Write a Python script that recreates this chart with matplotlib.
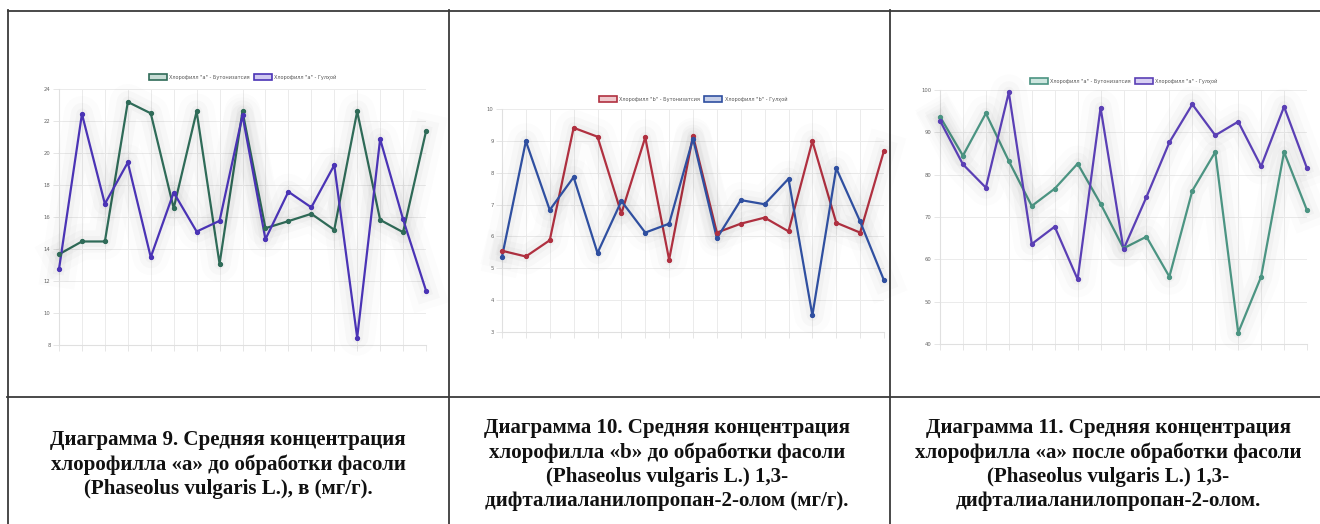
import matplotlib
matplotlib.use("Agg")
import matplotlib.pyplot as plt
import matplotlib.patheffects as pe
from matplotlib.patches import Patch

W, H = 1320, 524
DPI = 100

# ---------------- data ----------------
x_idx = list(range(1, 18))

chl_a_bud = [13.67, 14.47, 14.47, 23.19, 22.48, 16.55, 22.6, 13.07, 22.6, 15.3,
             15.74, 16.2, 15.2, 22.6, 15.82, 15.05, 21.35]
chl_a_flow = [12.74, 22.44, 16.82, 19.41, 13.49, 17.53, 15.09, 15.76, 22.35, 14.61,
              17.58, 16.6, 19.24, 8.46, 20.87, 15.86, 11.4]

chl_b_bud = [5.55, 5.37, 5.88, 9.41, 9.13, 6.72, 9.11, 5.27, 9.16, 6.12,
             6.40, 6.59, 6.16, 8.99, 6.43, 6.12, 8.69]
chl_b_flow = [5.36, 8.99, 6.83, 7.86, 5.48, 7.11, 6.12, 6.40, 9.07, 5.94,
              7.14, 7.01, 7.81, 3.52, 8.14, 6.47, 4.62]

chl_a2_bud = [93.7, 84.49, 94.49, 83.23, 72.6, 76.69, 82.6, 73.15, 62.6, 65.35,
              55.9, 76.2, 85.35, 42.68, 55.9, 85.35, 71.57]
chl_a2_flow = [92.76, 82.44, 76.93, 99.45, 63.62, 67.72, 55.28, 95.83, 62.36, 74.72,
               87.64, 96.61, 89.29, 92.52, 81.97, 96.06, 81.5]

legend1 = ['Хлорофилл "а" - Бутонизатсия', 'Хлорофилл "а" - Гулҳой']
legend2 = ['Хлорофилл "b" - Бутонизатсия', 'Хлорофилл "b" - Гулҳой']
legend3 = ['Хлорофилл "а" - Бутонизатсия', 'Хлорофилл "а" - Гулҳой']

yticks1 = [8, 10, 12, 14, 16, 18, 20, 22, 24]
yticks2 = [3, 4, 5, 6, 7, 8, 9, 10]
yticks3 = [40, 50, 60, 70, 80, 90, 100]

captions = [
    ["Диаграмма 9. Средняя концентрация",
     "хлорофилла «а» до обработки фасоли",
     "(Phaseolus vulgaris L.), в (мг/г)."],
    ["Диаграмма 10. Средняя концентрация",
     "хлорофилла «b» до обработки фасоли",
     "(Phaseolus vulgaris L.) 1,3-",
     "дифталиаланилопропан-2-олом (мг/г)."],
    ["Диаграмма 11. Средняя концентрация",
     "хлорофилла «а» после обработки фасоли",
     "(Phaseolus vulgaris L.) 1,3-",
     "дифталиаланилопропан-2-олом."],
]

fig = plt.figure(figsize=(W / DPI, H / DPI), dpi=DPI)
fig.patch.set_facecolor("white")


def px_axes(x0, y0, x1, y1):
    return fig.add_axes([x0 / W, (H - y1) / H, (x1 - x0) / W, (y1 - y0) / H])


shadow = [pe.Stroke(linewidth=26, foreground="#000000", alpha=0.012),
          pe.Stroke(linewidth=16, foreground="#000000", alpha=0.018),
          pe.Stroke(linewidth=8, foreground="#000000", alpha=0.025),
          pe.Normal()]


def chart(box, s1, s2, c1, c2, f1, f2, labels, yticks, legend_y):
    ax = px_axes(*box)
    ax.set_facecolor("white")
    for s, c in ((s1, c1), (s2, c2)):
        ax.plot(x_idx, s, color=c, lw=1.6, path_effects=shadow, zorder=3,
                clip_on=False)
        ax.plot(x_idx, s, ls="none", marker="o", ms=2.8, mfc=c, mec=c,
                zorder=4, clip_on=False)
    ax.set_xlim(x_idx[0], x_idx[-1])
    ax.set_ylim(yticks[0], yticks[-1])
    ax.set_yticks(yticks)
    ax.set_xticks(x_idx)
    ax.set_xticklabels([])
    ax.grid(True, color="#ebebeb", lw=0.7)
    for sp in ax.spines.values():
        sp.set_visible(False)
    ax.spines["left"].set_visible(True)
    ax.spines["left"].set_color("#e0e0e0")
    ax.spines["bottom"].set_visible(True)
    ax.spines["bottom"].set_color("#e0e0e0")
    ax.tick_params(axis="both", colors="#e6e6e6", labelcolor="#666666",
                   labelsize=3.8, length=4, width=0.7, pad=2)
    handles = [Patch(facecolor=f1, edgecolor=c1, lw=1.2),
               Patch(facecolor=f2, edgecolor=c2, lw=1.2)]
    yl = (H - legend_y) / H
    xc = ((box[0] + box[2]) / 2) / W
    fig.legend(handles, labels, loc="center", bbox_to_anchor=(xc, yl),
               ncol=2, frameon=False, fontsize=3.6, handlelength=3.6,
               handleheight=1.5, handletextpad=0.5, columnspacing=0.8,
               labelcolor="#555555")
    return ax


chart((59, 89, 426, 345), chl_a_bud, chl_a_flow, "#2f6b58", "#4a33b5",
      "#c7dcd5", "#cfc8f0", legend1, yticks1, 77)
chart((502, 109, 884, 332), chl_b_bud, chl_b_flow, "#b03040", "#2f4fa0",
      "#efc9cd", "#c7d0e8", legend2, yticks2, 99)
chart((940, 90, 1307, 344), chl_a2_bud, chl_a2_flow, "#4b9482", "#5a3fb5",
      "#cde6df", "#d8d0f3", legend3, yticks3, 81)

# ---------------- table borders ----------------
border = fig.add_axes([0, 0, 1, 1], zorder=10)
border.set_xlim(0, W)
border.set_ylim(H, 0)
border.axis("off")
bc = "#3a3a3a"
border.plot([7, W + 5], [10.5, 10.5], color=bc, lw=1.3, solid_capstyle="butt")
border.plot([7.5, 7.5], [10, H + 5], color=bc, lw=1.3)
border.plot([7, W + 5], [397, 397], color=bc, lw=1.3)
border.plot([449, 449], [10, H + 5], color=bc, lw=1.3)
border.plot([890, 890], [10, H + 5], color=bc, lw=1.3)

# ---------------- captions ----------------
centers = [228, 667, 1108]
starts = [440, 428, 428]
for cx, y0, lines in zip(centers, starts, captions):
    for i, line in enumerate(lines):
        border.text(cx, y0 + i * 24.3, line, ha="center", va="center",
                    fontsize=15.1, fontweight="bold", family="Liberation Serif",
                    color="#111111")

fig.savefig("out.png", dpi=DPI, facecolor="white")
